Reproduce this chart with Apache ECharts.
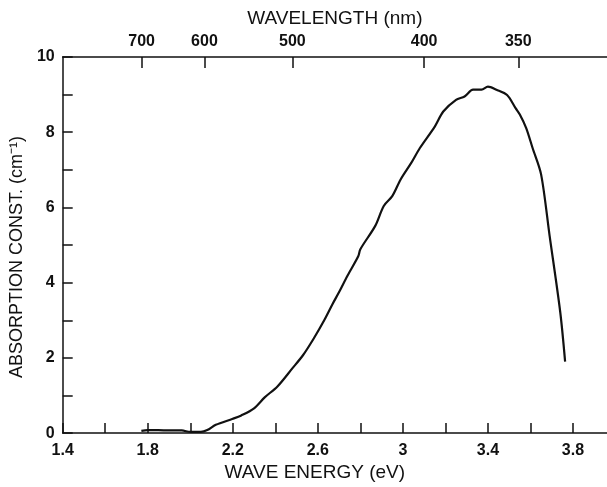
<!DOCTYPE html>
<html>
<head>
<meta charset="utf-8">
<script src="https://cdn.jsdelivr.net/npm/echarts@6/dist/echarts.min.js"></script>
<style>
  html, body { margin: 0; padding: 0; background: #fff; }
  #chart { width: 607px; height: 487px; }
</style>
</head>
<body>
<div id="chart"></div>
<script>
// absorption curve: [energy eV, absorption cm^-1]
var energy = [1.77, 1.80, 1.85, 1.90, 1.96, 2.00, 2.05, 2.08, 2.12, 2.20, 2.24, 2.30, 2.35, 2.41, 2.48, 2.53, 2.58,
    2.63, 2.67, 2.70, 2.74, 2.79, 2.80, 2.87, 2.91, 2.95, 2.99, 3.04, 3.08, 3.15, 3.19, 3.25, 3.29, 3.33, 3.37,
    3.40, 3.44, 3.49, 3.53, 3.55, 3.58, 3.61, 3.65, 3.69, 3.74, 3.763];
var absorption = [0.06, 0.08, 0.08, 0.07, 0.07, 0.03, 0.03, 0.08, 0.22, 0.38, 0.47, 0.66, 0.95, 1.24, 1.72, 2.07, 2.51,
    3.00, 3.44, 3.75, 4.19, 4.70, 4.89, 5.51, 6.04, 6.30, 6.75, 7.19, 7.58, 8.15, 8.55, 8.86, 8.95, 9.13, 9.13,
    9.21, 9.13, 8.99, 8.64, 8.47, 8.11, 7.58, 6.88, 5.25, 3.22, 1.90];

// axis ticks
var energyTicks = [1.4, 1.6, 1.8, 2.0, 2.2, 2.4, 2.6, 2.8, 3.0, 3.2, 3.4, 3.6, 3.8];
var energyLabels = [1.4, 1.8, 2.2, 2.6, 3.0, 3.4, 3.8];
var wavelengthLabels = [700, 600, 500, 400, 350];
var absLabels = [0, 2, 4, 6, 8, 10];

var seriesData = [];
for (var i = 0; i < energy.length; i++) {
    seriesData.push([energy[i], absorption[i]]);
}
// wavelength (nm) -> photon energy (eV)
var wlPos = wavelengthLabels.map(function (l) { return 1240 / l; });

var font = 'Liberation Sans, Arial, sans-serif';
var axisStyle = { color: '#111', width: 1.5 };
var labelStyle = { fontFamily: font, fontSize: 16, fontWeight: 'bold', color: '#111' };
var nameStyle = { fontFamily: font, fontSize: 19, color: '#111' };

var chart = echarts.init(document.getElementById('chart'));
var option = {
    animation: false,
    backgroundColor: '#fff',
    grid: { left: 60, right: 0, top: 57, bottom: 52 },
    xAxis: [
        {
            type: 'value',
            position: 'bottom',
            min: 1.4,
            max: 3.96,
            name: 'WAVE ENERGY (eV)',
            nameLocation: 'middle',
            nameGap: 28,
            nameTextStyle: Object.assign({}, nameStyle, { padding: [0, 40, 0, 0] }),
            axisLine: { show: true, lineStyle: axisStyle },
            axisTick: { show: true, inside: true, length: 10, customValues: energyTicks, lineStyle: axisStyle },
            axisLabel: Object.assign({
                customValues: energyLabels,
                margin: 9,
                formatter: function (v) { return Math.abs(v - 3) < 1e-6 ? '3' : v.toFixed(1); }
            }, labelStyle),
            splitLine: { show: false }
        },
        {
            type: 'value',
            position: 'top',
            min: 1.4,
            max: 3.96,
            name: 'WAVELENGTH (nm)',
            nameLocation: 'middle',
            nameGap: 29,
            nameTextStyle: nameStyle,
            axisLine: { show: true, lineStyle: axisStyle },
            axisTick: { show: true, inside: true, length: 11, customValues: wlPos, lineStyle: axisStyle },
            axisLabel: Object.assign({
                customValues: wlPos,
                margin: 7,
                formatter: function (v) { return String(Math.round(1240 / v / 50) * 50); }
            }, labelStyle),
            splitLine: { show: false }
        }
    ],
    yAxis: {
        type: 'value',
        min: 0,
        max: 10,
        interval: 1,
        name: 'ABSORPTION CONST. (cm\u207B\u00B9)',
        nameLocation: 'middle',
        nameGap: 30,
        nameRotate: 90,
        nameTextStyle: Object.assign({}, nameStyle, { fontSize: 18, padding: [0, 24, 0, 0] }),
        axisLine: { show: true, lineStyle: axisStyle },
        axisTick: { show: true, inside: true, length: 10, lineStyle: axisStyle },
        axisLabel: Object.assign({
            customValues: absLabels,
            margin: 8
        }, labelStyle),
        splitLine: { show: false }
    },
    series: [
        {
            type: 'line',
            xAxisIndex: 0,
            data: seriesData,
            showSymbol: false,
            smooth: 0.3,
            lineStyle: { color: '#111', width: 2.2 }
        }
    ]
};
chart.setOption(option);
</script>
</body>
</html>
